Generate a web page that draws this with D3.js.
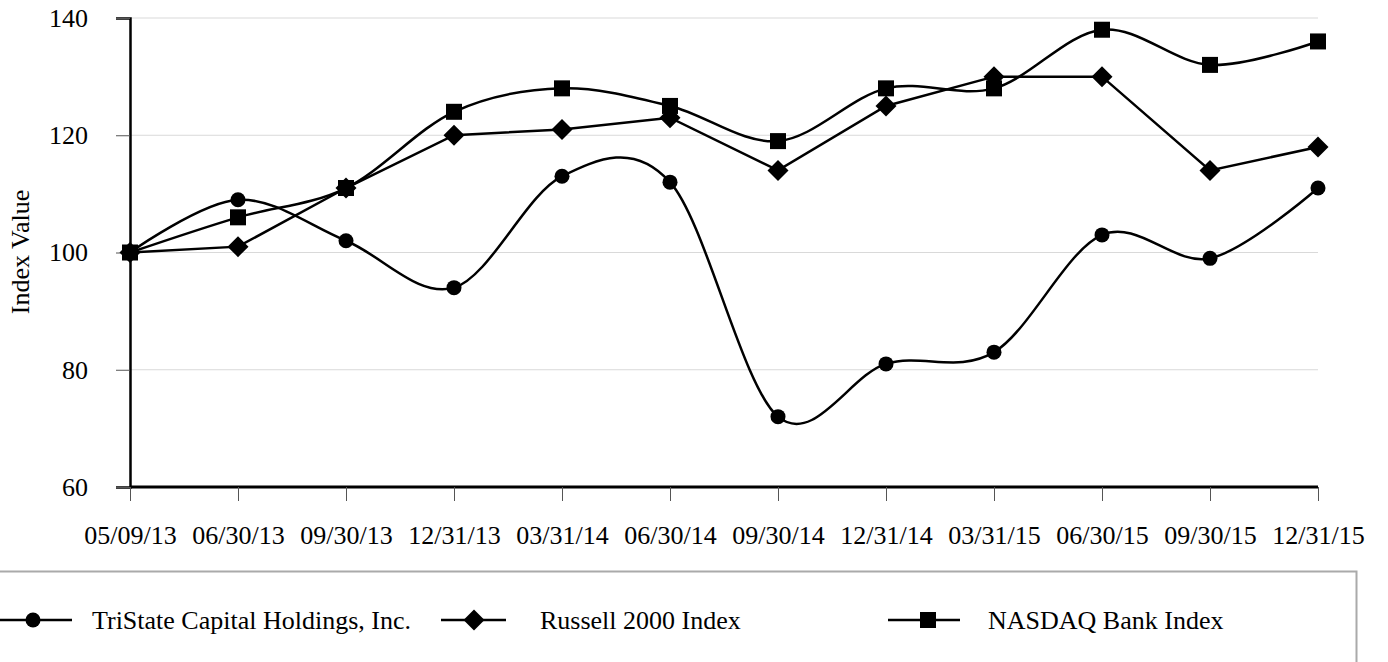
<!DOCTYPE html>
<head>
  <meta charset="utf-8" />
  <script src="https://cdn.jsdelivr.net/npm/d3@7"></script>
  <style>
    body {
      margin: 0;
      background: #fff;
    }
  </style>
</head>

<body>
  <script>
    var dates = ["05/09/13", "06/30/13", "09/30/13", "12/31/13", "03/31/14", "06/30/14",
      "09/30/14", "12/31/14", "03/31/15", "06/30/15", "09/30/15", "12/31/15"];
    var tristate = [100, 109, 102, 94, 113, 112, 72, 81, 83, 103, 99, 111];
    var russell = [100, 101, 111, 120, 121, 123, 114, 125, 130, 130, 114, 118];
    var nasdaq = [100, 106, 111, 124, 128, 125, 119, 128, 128, 138, 132, 136];
    var yTicks = [60, 80, 100, 120, 140];

    var font = "'Liberation Serif'";
    var width = 1388, height = 662;
    var svg = d3.select("body").append("svg")
      .attr("width", width)
      .attr("height", height)
      .attr("font-family", font);

    var x = d3.scalePoint().domain(dates).range([130, 1318]);
    var y = d3.scaleLinear().domain([60, 140]).range([487, 18]);

    // gridlines
    svg.append("g")
      .selectAll("line")
      .data(yTicks.slice(1))
      .enter()
      .append("line")
      .attr("x1", 130).attr("x2", 1318)
      .attr("y1", d => y(d)).attr("y2", d => y(d))
      .attr("stroke", "#d9d9d9").attr("stroke-width", 1);

    // y axis
    var yAxis = svg.append("g")
      .attr("transform", "translate(130,0)")
      .call(d3.axisLeft(y).tickValues(yTicks).tickSize(14).tickPadding(28));
    yAxis.attr("font-family", font).attr("font-size", 26);
    yAxis.select(".domain").attr("stroke", "#000").attr("stroke-width", 2.5);
    yAxis.selectAll(".tick line").attr("stroke", "#555");
    yAxis.selectAll(".tick text").attr("fill", "#000");

    // x axis
    var xAxis = svg.append("g")
      .attr("transform", "translate(0,487)")
      .call(d3.axisBottom(x).tickSize(14));
    xAxis.attr("font-family", font).attr("font-size", 26);
    xAxis.select(".domain").attr("stroke", "#000").attr("stroke-width", 3)
      .attr("d", "M130,0H1318");
    xAxis.selectAll(".tick line").attr("stroke", "#555");
    xAxis.selectAll(".tick text").attr("y", 57).attr("dy", 0).attr("fill", "#000");

    svg.append("text")
      .attr("transform", "translate(29,252) rotate(-90)")
      .attr("text-anchor", "middle")
      .attr("font-size", 26)
      .text("Index Value");

    var smooth = d3.line().x((d, i) => x(dates[i])).y(d => y(d)).curve(d3.curveCatmullRom.alpha(0));
    var straight = d3.line().x((d, i) => x(dates[i])).y(d => y(d));

    var series = [
      { name: "TriState Capital Holdings, Inc.", values: tristate, shape: "circle", line: smooth },
      { name: "Russell 2000 Index", values: russell, shape: "diamond", line: straight },
      { name: "NASDAQ Bank Index", values: nasdaq, shape: "square", line: smooth }
    ];

    function marker(g, shape) {
      if (shape == "circle") g.append("circle").attr("r", 7.5);
      else if (shape == "square") g.append("rect").attr("x", -8).attr("y", -8).attr("width", 16).attr("height", 16);
      else g.append("path").attr("d", "M0,-10.5L10.5,0L0,10.5L-10.5,0Z");
    }

    series.forEach(s => {
      svg.append("path")
        .attr("d", s.line(s.values))
        .attr("fill", "none")
        .attr("stroke", "#000")
        .attr("stroke-width", 2.5);
      s.values.forEach((v, i) => {
        var g = svg.append("g")
          .attr("transform", "translate(" + x(dates[i]) + "," + y(v) + ")")
          .attr("fill", "#000");
        marker(g, s.shape);
      });
    });

    // legend box
    svg.append("path")
      .attr("d", "M0,571.5H1356.5V662")
      .attr("fill", "none")
      .attr("stroke", "#aaa")
      .attr("stroke-width", 2);

    var legendLine = [[0, 72], [441, 506], [888, 960]];
    var legendMark = [33, 474, 928];
    var legendText = [92, 540, 988];
    series.forEach((s, i) => {
      var g = svg.append("g").attr("transform", "translate(0,620)");
      g.append("line").attr("x1", legendLine[i][0]).attr("x2", legendLine[i][1])
        .attr("stroke", "#000").attr("stroke-width", 2.5);
      var m = g.append("g").attr("transform", "translate(" + legendMark[i] + ",0)");
      marker(m, s.shape);
      g.append("text")
        .attr("x", legendText[i])
        .attr("dy", "0.33em")
        .attr("font-size", 26)
        .text(s.name);
    });
  </script>
</body>
